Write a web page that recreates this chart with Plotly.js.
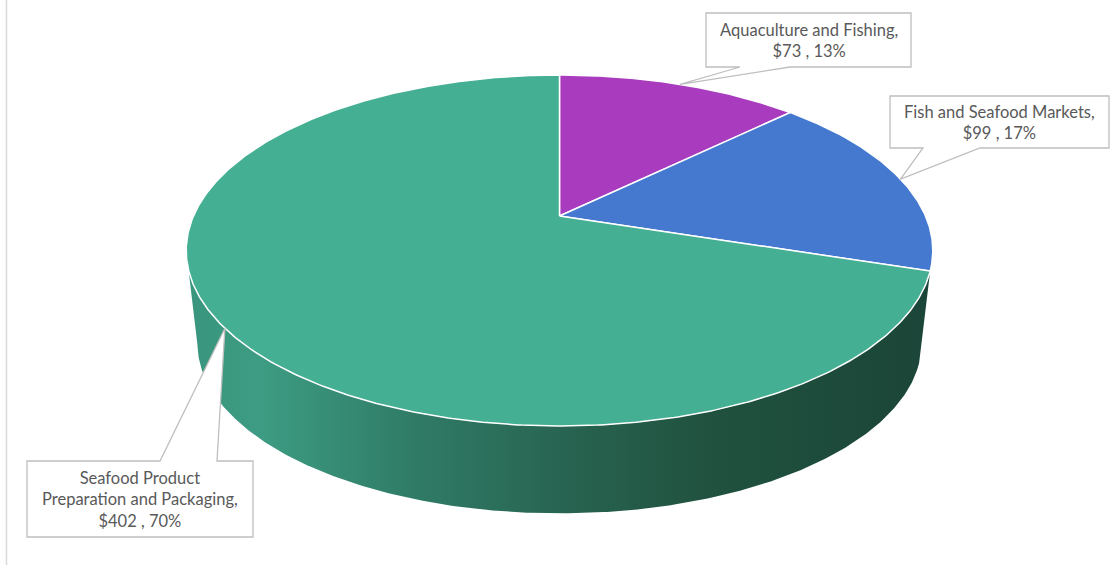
<!DOCTYPE html>
<html>
<head>
<meta charset="utf-8">
<script src="https://cdn.plot.ly/plotly-3.0.1.min.js"></script>
<style>
html,body{margin:0;padding:0;background:#fff;}
#chart{width:1116px;height:565px;}
</style>
</head>
<body>
<div id="chart"></div>
<script>
// ---- data ----
const categories = ['Aquaculture and Fishing', 'Fish and Seafood Markets', 'Seafood Product Preparation and Packaging'];
const labelLines = ['Aquaculture and Fishing,', 'Fish and Seafood Markets,', 'Seafood Product<br>Preparation and Packaging,'];
const values = [73, 99, 402];
const topColors = ['#A83BBE', '#4479CF', '#45AF94'];

// ---- geometry of the 3D pie (layout, pixels) ----
const W = 1116, H = 565;
const cx = 559.5, cy = 216, R = 366, A = 168.7, P = 0.1966;   // top face
const K = 0.97, cyB = 309.7;                                     // bottom face
function proj(theta, bottom) {
  const s = Math.sin(theta), c = Math.cos(theta);
  const d = 1 + P * s;
  if (!bottom) return [cx + R * c / d, cy - A * s / d];
  return [cx + K * R * c / d, cyB - K * A * s / d];
}
const deg = Math.PI / 180;
const total = values.reduce((a, b) => a + b, 0);

// slice angles: start at 12 o'clock, clockwise
const starts = [], ends = [];
let acc = 90 * deg;
values.forEach(v => { starts.push(acc); acc -= v / total * 2 * Math.PI; ends.push(acc); });

function arc(t1, t2, bottom) {
  const pts = [];
  const n = Math.max(2, Math.ceil(Math.abs(t2 - t1) / (0.5 * deg)));
  for (let i = 0; i <= n; i++) pts.push(proj(t1 + (t2 - t1) * i / n, bottom));
  return pts;
}

const traces = [];

// side wall of the big slice (front, visible part)
const gi = 2;
const wallStart = Math.min(starts[gi], -Math.asin(P));
const wallEnd = -Math.PI + Math.asin(P);
{
  const top = arc(wallStart, wallEnd, false);
  const bot = arc(wallEnd, wallStart, true);
  const pts = top.concat(bot);
  pts.push(top[0]);
  traces.push({
    type: 'scatter', mode: 'lines', hoverinfo: 'skip', showlegend: false,
    x: pts.map(p => p[0]), y: pts.map(p => p[1]),
    fill: 'toself', line: {width: 0, color: 'rgba(0,0,0,0)'},
    fillgradient: {type: 'horizontal', colorscale: [
      [0, '#39957d'], [0.1, '#3d9c83'], [0.3, '#307c67'], [0.5, '#286552'],
      [0.7, '#20523f'], [1, '#1b4538']]}
  });
}

// top faces
values.forEach((v, i) => {
  const pts = [[cx, cy]].concat(arc(starts[i], ends[i], false));
  pts.push([cx, cy]);
  traces.push({
    type: 'scatter', mode: 'lines', hoverinfo: 'skip', showlegend: false,
    x: pts.map(p => p[0]), y: pts.map(p => p[1]),
    fill: 'toself', fillcolor: topColors[i],
    line: {color: '#ffffff', width: 1.5}
  });
});

// callouts (boxes are layout; tips come from slice mid-angles)
const tips = values.map((v, i) => proj((starts[i] + ends[i]) / 2, false));
const boxes = [
  {x0: 706, y0: 13, x1: 911, y1: 67, side: 'bottom', b0: 740, b1: 790},
  {x0: 890, y0: 96, x1: 1109, y1: 148, side: 'bottom', b0: 923, b1: 980},
  {x0: 27, y0: 461, x1: 253, y1: 537, side: 'top', b0: 160, b1: 217}
];
const shapes = [{type: 'line', xref: 'paper', yref: 'paper', x0: 0.0058, x1: 0.0058, y0: 0, y1: 1,
                 line: {color: '#d9d9d9', width: 1.5}}];
const annotations = [];
boxes.forEach((b, i) => {
  const t = tips[i];
  let path;
  if (b.side === 'bottom') {
    path = `M${b.x0},${b.y0} L${b.x1},${b.y0} L${b.x1},${b.y1} L${b.b1},${b.y1} L${t[0]},${t[1]} L${b.b0},${b.y1} L${b.x0},${b.y1} Z`;
  } else {
    path = `M${b.x0},${b.y0} L${b.b0},${b.y0} L${t[0]},${t[1]} L${b.b1},${b.y0} L${b.x1},${b.y0} L${b.x1},${b.y1} L${b.x0},${b.y1} Z`;
  }
  shapes.push({type: 'path', xref: 'x', yref: 'y', path: path, fillcolor: '#ffffff',
               line: {color: '#bfbfbf', width: 1.3}, layer: 'above'});
  const pct = Math.round(values[i] / total * 100);
  annotations.push({
    xref: 'x', yref: 'y', x: (b.x0 + b.x1) / 2, y: (b.y0 + b.y1) / 2,
    text: `${labelLines[i]}<br>$${values[i]} , ${pct}%`,
    showarrow: false, align: 'center', xanchor: 'center', yanchor: 'middle',
    font: {family: 'Lato, "Open Sans", sans-serif', size: 16.5, color: '#595959'}
  });
});

const layout = {
  width: W, height: H,
  margin: {l: 0, r: 0, t: 0, b: 0},
  paper_bgcolor: '#ffffff', plot_bgcolor: '#ffffff',
  xaxis: {range: [0, W], visible: false, fixedrange: true},
  yaxis: {range: [H, 0], visible: false, fixedrange: true},
  shapes: shapes, annotations: annotations, showlegend: false
};
Plotly.newPlot('chart', traces, layout, {displayModeBar: false, staticPlot: true});
</script>
</body>
</html>
